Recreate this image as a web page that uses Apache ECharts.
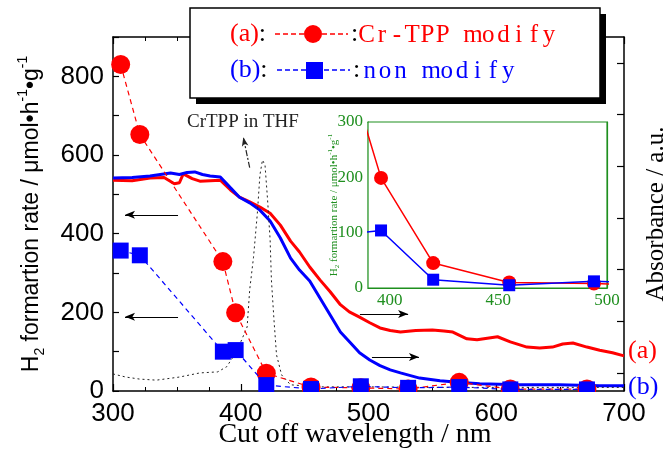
<!DOCTYPE html>
<html>
<head>
<meta charset="utf-8">
<script src="https://cdn.jsdelivr.net/npm/echarts@6/dist/echarts.min.js"></script>
<style>html,body{margin:0;padding:0;background:#fff}#c{width:666px;height:451px}</style>
</head>
<body>
<div id="c"></div>
<script>
// ---- data ----
const wlRate = [306, 321, 386, 396, 420, 455, 494, 531, 571, 611, 671];
const rateA = [830, 652, 329, 199, 45, 10, 8, 5, 22, 5, 5];      // (a) Cr-TPP modify
const rateB = [357, 345, 100, 104, 15, 5, 12, 8, 10, 4, 4];      // (b) non modify

const absWlA = [300,315,329,340,348,352,355,362,368,376,384,392,399,407,415,423,431,439,446,454,462,470,478,485,493,501,509,517,525,537,550,559,566,577,585,593,601,611,624,634,644,652,660,671,681,691,700];
const absA   = [3.73,3.72,3.77,3.78,3.66,3.68,3.85,3.76,3.71,3.72,3.73,3.54,3.40,3.31,3.21,3.09,2.86,2.55,2.34,2.05,1.80,1.57,1.32,1.18,1.08,0.97,0.87,0.82,0.79,0.82,0.83,0.81,0.79,0.66,0.64,0.67,0.70,0.60,0.50,0.48,0.50,0.56,0.58,0.50,0.44,0.39,0.33];
const absWlB = [300,315,329,345,352,358,364,370,376,384,392,399,407,415,423,431,439,446,454,462,470,478,486,493,501,509,517,525,540,556,570,587,618,649,681,700];
const absB   = [3.77,3.78,3.81,3.87,3.84,3.88,3.89,3.84,3.81,3.79,3.58,3.40,3.29,3.15,2.94,2.61,2.22,1.99,1.78,1.45,1.12,0.79,0.58,0.39,0.25,0.14,0.06,0.00,-0.10,-0.15,-0.18,-0.21,-0.23,-0.23,-0.25,-0.25];
const thfWl  = [300,310,321,334,352,368,382,389,394,399,405,407,410,413,415,417,419,421,423,424,426,428,432,439,460,500,550,600,650,700];
const thfAbs = [-0.02,-0.08,-0.12,-0.14,-0.08,0,0.02,0.12,0.31,0.54,0.89,1.61,2.24,3.09,3.83,4.12,4.02,3.35,2.57,1.80,1.03,0.35,-0.04,-0.23,-0.27,-0.27,-0.28,-0.28,-0.28,-0.28];

const insetXLabels = [400, 450, 500];
const insetXTicks = [400, 425, 450, 475, 500];
const absTicks = [0, 1, 2, 3, 4, 5, 6];

const zip = (a, b) => a.map((v, i) => [v, b[i]]);

const RED = '#ff0000', BLUE = '#0000ff', GREEN = '#1f8f1f';
const SANS = '"Liberation Sans", Arial, sans-serif';
const SERIF = '"Liberation Serif", "Times New Roman", serif';

// monospaced serif look: each character drawn centred in a fixed-width cell
const monoText = (s, x0, y, step, color) => s.split('').map((ch, i) => ({
  type: 'text', z: 102, silent: true, x: x0 + step * i + step / 2, y: y,
  style: {text: ch, fontFamily: SERIF, fontSize: 25, fill: color, align: 'center', verticalAlign: 'middle'}
}));

const chart = echarts.init(document.getElementById('c'), null, {renderer: 'canvas'});

const arrowLine = (pts) => ({
  silent: true, animation: false,
  symbol: ['none', 'arrow'], symbolSize: [6, 10],
  label: {show: false},
  lineStyle: {color: '#000', width: 1.2, type: 'solid'},
  data: [[{coord: pts[0]}, {coord: pts[1]}]]
});

const blackAxis = {onZero: false, lineStyle: {color: '#000', width: 1.5}};
const greenAxis = {onZero: false, lineStyle: {color: GREEN, width: 1.2}};
const inTick = (len) => ({inside: true, length: len, lineStyle: {color: '#000', width: 1.2}});

const option = {
  animation: false,
  backgroundColor: '#fff',
  grid: [
    {left: 113, right: 42, top: 37, bottom: 60, show: false, outerBoundsMode: 'none', containLabel: false},
    {left: 368, top: 122, width: 239, height: 166, show: true, backgroundColor: '#fff', borderColor: GREEN, borderWidth: 1.2, z: 3, outerBoundsMode: 'none', containLabel: false}
  ],
  xAxis: [
    {gridIndex: 0, type: 'value', min: 300, max: 700, interval: 100, position: 'bottom',
     axisLine: blackAxis, axisTick: inTick(7),
     minorTick: {show: true, splitNumber: 4, length: 4, lineStyle: {color: '#000', width: 1}},
     splitLine: {show: false},
     axisLabel: {fontFamily: SANS, fontSize: 26, color: '#000', margin: 10},
     name: 'Cut off wavelength / nm', nameLocation: 'middle', nameGap: 30, nameMoveOverlap: false,
     nameTextStyle: {fontFamily: SERIF, fontSize: 28, color: '#000', padding: [0, 27, 0, 0]}},
    {gridIndex: 0, type: 'value', min: 300, max: 700, interval: 100, position: 'top',
     axisLine: blackAxis, axisTick: inTick(7),
     minorTick: {show: true, splitNumber: 4, length: 4, lineStyle: {color: '#000', width: 1}},
     splitLine: {show: false}, axisLabel: {show: false}},
    {gridIndex: 1, type: 'value', min: 390, max: 500, position: 'bottom',
     axisLine: greenAxis,
     axisTick: {inside: true, length: 4, customValues: insetXTicks, lineStyle: {color: GREEN, width: 1}},
     splitLine: {show: false},
     axisLabel: {fontFamily: SERIF, fontSize: 17, color: GREEN, margin: 4, customValues: insetXLabels}},
    {gridIndex: 1, type: 'value', min: 390, max: 500, position: 'top',
     axisLine: greenAxis,
     axisTick: {inside: true, length: 4, customValues: insetXTicks, lineStyle: {color: GREEN, width: 1}},
     splitLine: {show: false}, axisLabel: {show: false}}
  ],
  yAxis: [
    {gridIndex: 0, type: 'value', min: 0, max: 900, interval: 100, position: 'left',
     axisLine: blackAxis, axisTick: inTick(6), splitLine: {show: false},
     axisLabel: {fontFamily: SANS, fontSize: 26, color: '#000', margin: 9,
                 formatter: v => (v % 200 === 0 && v < 900) ? String(v) : ''},
     name: '{m|H}{s|2}{m| formartion rate / μmol•h}{p|-1}{m|•g}{p|-1}',
     nameLocation: 'middle', nameGap: 66, nameRotate: 90, nameMoveOverlap: false,
     nameTextStyle: {fontFamily: SANS, fontSize: 23, color: '#000',
       rich: {m: {fontFamily: SANS, fontSize: 23, lineHeight: 31, verticalAlign: 'middle', color: '#000'},
              s: {fontFamily: SANS, fontSize: 14, lineHeight: 31, verticalAlign: 'bottom', color: '#000'},
              p: {fontFamily: SANS, fontSize: 14, lineHeight: 31, verticalAlign: 'top', color: '#000'}}}},
    {gridIndex: 0, type: 'value', min: -0.35, max: 6.5, position: 'right',
     axisLine: {show: true, onZero: false, lineStyle: {color: '#000', width: 1.5}},
     axisTick: {inside: true, length: 7, customValues: absTicks, lineStyle: {color: '#000', width: 1.2}},
     splitLine: {show: false}, axisLabel: {show: false},
     name: 'Absorbance / a.u.', nameLocation: 'middle', nameGap: 20, nameRotate: 90, nameMoveOverlap: false,
     nameTextStyle: {fontFamily: SERIF, fontSize: 25, color: '#000'}},
    {gridIndex: 1, type: 'value', min: 0, max: 300, interval: 50, position: 'left',
     axisLine: greenAxis,
     axisTick: {inside: true, length: 4, lineStyle: {color: GREEN, width: 1}},
     splitLine: {show: false},
     axisLabel: {fontFamily: SERIF, fontSize: 17, color: GREEN, margin: 5,
                 formatter: v => (v % 100 === 0) ? String(v) : ''},
     name: '{m|H}{s|2}{m| formartion rate / μmol•h}{p|-1}{m|•g}{p|-1}',
     nameLocation: 'middle', nameGap: 27, nameRotate: 90, nameMoveOverlap: false,
     nameTextStyle: {fontFamily: SERIF, fontSize: 11, color: GREEN,
       rich: {m: {fontFamily: SERIF, fontSize: 11, lineHeight: 14, verticalAlign: 'middle', color: GREEN},
              s: {fontFamily: SERIF, fontSize: 7, lineHeight: 14, verticalAlign: 'bottom', color: GREEN},
              p: {fontFamily: SERIF, fontSize: 7, lineHeight: 14, verticalAlign: 'top', color: GREEN}}}},
    {gridIndex: 1, type: 'value', min: 0, max: 300, interval: 50, position: 'right',
     axisLine: greenAxis,
     axisTick: {inside: true, length: 4, lineStyle: {color: GREEN, width: 1}},
     splitLine: {show: false}, axisLabel: {show: false}}
  ],
  series: [
    {name: 'abs (a)', type: 'line', xAxisIndex: 0, yAxisIndex: 1, data: zip(absWlA, absA),
     showSymbol: false, symbol: 'none', lineStyle: {color: RED, width: 3}, itemStyle: {color: RED}, z: 2,
     endLabel: {show: true, formatter: '(a)', color: RED, fontFamily: SERIF, fontSize: 26, distance: 4, offset: [0, -5]},
     markLine: arrowLine([[493.3, 1.14], [531, 1.14]])},
    {name: 'abs (b)', type: 'line', xAxisIndex: 0, yAxisIndex: 1, data: zip(absWlB, absB),
     showSymbol: false, symbol: 'none', lineStyle: {color: BLUE, width: 3}, itemStyle: {color: BLUE}, z: 2,
     endLabel: {show: true, formatter: '(b)', color: BLUE, fontFamily: SERIF, fontSize: 26, distance: 4, offset: [0, 1]},
     markLine: arrowLine([[502.7, 0.31], [539.5, 0.31]])},
    {name: 'CrTPP in THF', type: 'line', xAxisIndex: 0, yAxisIndex: 1, data: zip(thfWl, thfAbs),
     showSymbol: false, symbol: 'none', lineStyle: {color: '#222', width: 1, type: [2, 3]}, z: 2,
     markLine: Object.assign(arrowLine([[407, 3.97], [402, 4.56]]),
       {lineStyle: {color: '#222', width: 1.2, type: [6, 2, 2, 2]}, symbolSize: [5, 9]})},
    {name: 'Cr-TPP modify', type: 'line', xAxisIndex: 0, yAxisIndex: 0, data: zip(wlRate, rateA),
     symbol: 'circle', symbolSize: 19, itemStyle: {color: RED},
     lineStyle: {color: RED, width: 1.2, type: [5, 4]}, z: 4,
     markLine: arrowLine([[350.9, 448], [309.4, 448]])},
    {name: 'non modify', type: 'line', xAxisIndex: 0, yAxisIndex: 0, data: zip(wlRate, rateB),
     symbol: 'rect', symbolSize: 16, itemStyle: {color: BLUE},
     lineStyle: {color: BLUE, width: 1.2, type: [5, 4]}, z: 5,
     markLine: arrowLine([[350.9, 188.5], [309.4, 188.5]])},
    {name: 'Cr-TPP modify inset', type: 'line', xAxisIndex: 2, yAxisIndex: 2, data: zip(wlRate, rateA),
     symbol: 'circle', symbolSize: 14, itemStyle: {color: RED}, clip: true,
     lineStyle: {color: RED, width: 1.5}, z: 6},
    {name: 'non modify inset', type: 'line', xAxisIndex: 2, yAxisIndex: 2, data: zip(wlRate, rateB),
     symbol: 'rect', symbolSize: 12, itemStyle: {color: BLUE}, clip: true,
     lineStyle: {color: BLUE, width: 1.5}, z: 7}
  ],
  graphic: [
    // mask just below the x axis so markers look cut at the axis, as in the original
    {type: 'rect', z: 50, silent: true, shape: {x: 114, y: 392, width: 509, height: 7}, style: {fill: '#fff'}},
    // legend box with shadow
    {type: 'rect', z: 100, silent: true, shape: {x: 196, y: 14, width: 410, height: 90}, style: {fill: '#000'}},
    {type: 'rect', z: 101, silent: true, shape: {x: 190, y: 8, width: 410, height: 90}, style: {fill: '#fff', stroke: '#000', lineWidth: 1.5}},
    {type: 'text', z: 102, silent: true, x: 230, y: 34,
     style: {text: '{a|(a)}{k|:}', verticalAlign: 'middle', align: 'left',
       rich: {a: {fontFamily: SERIF, fontSize: 26, fill: RED}, k: {fontFamily: SERIF, fontSize: 26, fill: '#000'}}}},
    {type: 'line', z: 102, silent: true, shape: {x1: 275, y1: 34, x2: 306, y2: 34}, style: {stroke: RED, lineWidth: 1.5, lineDash: [5, 3]}},
    {type: 'circle', z: 103, silent: true, shape: {cx: 313, cy: 34, r: 9}, style: {fill: RED}},
    {type: 'line', z: 102, silent: true, shape: {x1: 322, y1: 34, x2: 348, y2: 34}, style: {stroke: RED, lineWidth: 1.5, lineDash: [5, 3]}},
    {type: 'text', z: 102, silent: true, x: 351, y: 34,
     style: {text: ':', fontFamily: SERIF, fontSize: 26, fill: '#000', verticalAlign: 'middle', align: 'left'}},
    ...monoText('Cr-TPP modify', 359, 35, 15.2, RED),
    {type: 'text', z: 102, silent: true, x: 230, y: 70,
     style: {text: '{a|(b)}{k|:}', verticalAlign: 'middle', align: 'left',
       rich: {a: {fontFamily: SERIF, fontSize: 26, fill: BLUE}, k: {fontFamily: SERIF, fontSize: 26, fill: '#000'}}}},
    {type: 'line', z: 102, silent: true, shape: {x1: 277, y1: 70, x2: 306, y2: 70}, style: {stroke: BLUE, lineWidth: 1.5, lineDash: [5, 3]}},
    {type: 'rect', z: 103, silent: true, shape: {x: 306, y: 62, width: 17, height: 17}, style: {fill: BLUE}},
    {type: 'line', z: 102, silent: true, shape: {x1: 324, y1: 70, x2: 350, y2: 70}, style: {stroke: BLUE, lineWidth: 1.5, lineDash: [5, 3]}},
    {type: 'text', z: 102, silent: true, x: 353, y: 70,
     style: {text: ':', fontFamily: SERIF, fontSize: 26, fill: '#000', verticalAlign: 'middle', align: 'left'}},
    ...monoText('non modify', 362, 71, 15.4, BLUE),
    // annotation text
    {type: 'text', z: 60, silent: true, x: 187, y: 122,
     style: {text: 'CrTPP in THF', fontFamily: SERIF, fontSize: 19, fill: '#222', verticalAlign: 'middle', align: 'left'}}
  ]
};
chart.setOption(option);
</script>
</body>
</html>
